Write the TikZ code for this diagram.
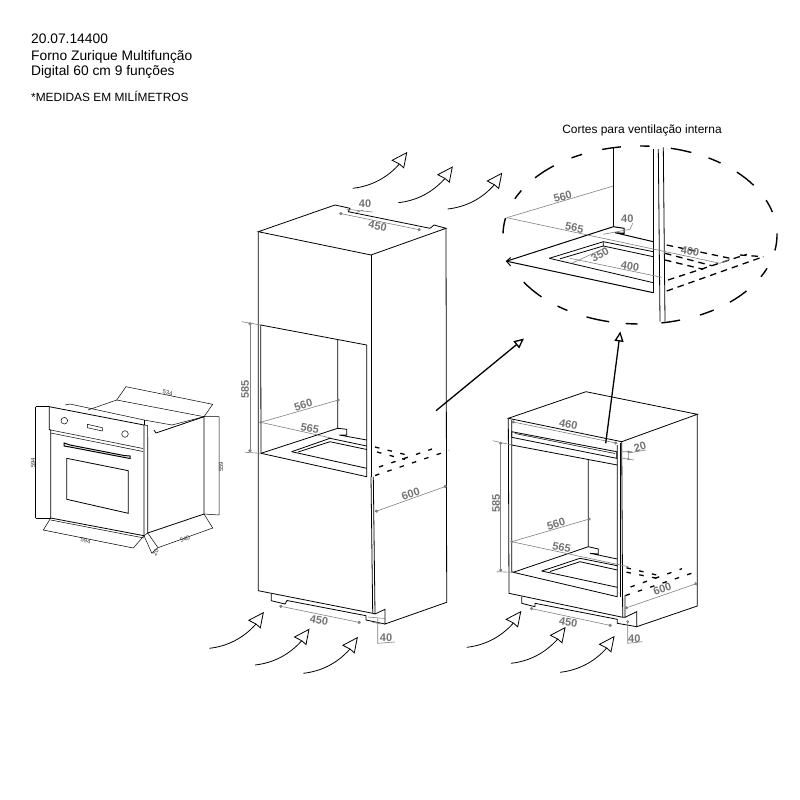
\documentclass[tikz,border=0pt]{standalone}
\usepackage{fontspec}
\setmainfont{Liberation Sans}
\usetikzlibrary{arrows.meta}
\tikzset{
    part/.style={line width=0.8pt,line join=miter},
    thin part/.style={line width=0.5pt},
    vent/.style={line width=1.3pt,dash pattern=on 4.5pt off 8.5pt},
    inset vent/.style={line width=1.3pt,dash pattern=on 6.5pt off 5pt},
    ring/.style={line width=1.4pt},
    dimline/.style={draw=black!50,line width=0.6pt},
    dimend/.style={dimline,{Circle[length=3.2pt]}-{Circle[length=3.2pt]}},
    dimtext/.style={text=black!55,font=\bfseries\fontsize{11}{11}\selectfont,inner sep=0pt},
    smalldim/.style={text=black!80,font=\fontsize{6}{6}\selectfont,inner sep=0pt},
    caption/.style={font=\fontsize{13.8}{14}\selectfont,inner sep=0pt,anchor=base west},
    bigarrow/.style={line width=1.3pt,-{Triangle[open,length=10pt,width=9pt,fill=white]}},
    pics/airflow/.style={code={
        \draw[line width=0.8pt] (0,0) .. controls (18,-2) and (34,-10) .. (46.7,-24.3);
        \draw[line width=0.8pt,fill=white] (46.7,-24.3) -- (39.5,-28) -- (54,-35.6) -- (51,-20.5) -- cycle;
    }}
}
\begin{document}
\begin{tikzpicture}[x=1pt,y=-1pt]
\useasboundingbox (0,0) rectangle (800,800);

\node[caption] (code) at (31,44) {20.07.14400};
\node[caption] (name) at (31,60) {Forno Zurique Multifunção};
\node[caption] (spec) at (31,75.5) {Digital 60 cm 9 funções};
\node[caption,font=\fontsize{11.9}{12}\selectfont] (note) at (31,101) {*MEDIDAS EM MILÍMETROS};
\node[font=\fontsize{11.95}{12}\selectfont,inner sep=0pt] (title) at (642,130) {Cortes para ventilação interna};

% small oven
\draw[part] (49.3,406.7) -- (144,425) -- (144,535.7) -- (50.7,518) -- (50.7,430) -- (49.3,429.5) -- cycle;
\draw[thin part] (50.7,430) -- (143,448.5) (50.7,433) -- (143,451.5) (50.7,520) -- (144,538);
\draw[part] (147.7,436.7) -- (147.7,533) -- (204,514) -- (204,416.7) -- (156,433) -- (154,430);
\draw[thin part] (144,425) -- (147.7,425.5) -- (147.7,436.7) (144,535.7) -- (147.7,533);
\draw[thin part] (65,405) -- (70,404) -- (144,420) -- (172,425) -- (204,416.7);
\draw[thin part] (88,410) -- (116.7,400) -- (204,416.7);
\draw[thin part] (144,420) -- (144,425);
\draw[part] (66.7,458.3) -- (128.3,470.7) -- (128.3,513.3) -- (66.7,499.3) -- cycle;
\draw[thin part] (87.3,424.3) -- (102.3,427.7) -- (102.3,431) -- (87.3,427.7) -- cycle;
\draw[thin part] (64.3,420.7) circle (3.3);
\draw[thin part] (125,434) circle (3.3);
\draw[line width=1pt] (64,446) -- (64,443) -- (70,445) -- (124,455.5) -- (130,456) -- (130,458.5) -- (70,447) -- cycle;
\draw[thin part] (35.7,406.7) -- (49,406.7) (35.7,518) -- (50.7,518);
\draw[thin part] (35.7,406.7) -- (35.7,518);
\draw[thin part] (219,416.7) -- (204,416.7) (219,515) -- (204,514) (219,416.7) -- (219,515);
\draw[thin part] (116.7,400) -- (126,386.7) -- (212.7,404.3) -- (204,416.7);
\draw[thin part] (50.7,518) -- (43.3,530) -- (133.3,548) -- (144,535.7);
\draw[thin part] (204,514) -- (212.7,528) -- (158,547.7) -- (147.7,533);
\draw[thin part] (144,535.7) -- (151.7,553) -- (158,547.7);
\node[smalldim,rotate=-10] (d534) at (167.7,392.7) {534};
\node[smalldim,rotate=90] (d594a) at (33,462.7) {594};
\node[smalldim,rotate=90] (d559) at (221,466.7) {559};
\node[smalldim,rotate=-10] (d594b) at (85.7,540.7) {594};
\node[smalldim,rotate=18] (d540) at (185,539) {540};
\node[smalldim,rotate=60] (d20) at (155.7,552.7) {20};

% tall cabinet
\draw[part] (258.3,231.7) -- (335,205) -- (350,208.3) -- (348.3,211.7) -- (430,228.3) -- (434,225) -- (446,228.3) -- (371,255) -- cycle;
\draw[part] (258.3,231.7) -- (258.3,590.7) -- (372.7,613.3);
\draw[part] (371,255) -- (371,476.5);
\draw[part] (373.3,476.5) -- (375,614) (371,476.5) -- (372.7,613.3) -- (375,614);
\draw[part] (446,228.3) -- (446.7,602.3) -- (385,624) -- (385,609.3) -- (375,614);
\draw[part] (271.3,594) -- (271.3,600.7) -- (285,604) -- (287,600.5) -- (366,615.7) -- (366,620) -- (385,624);
\draw[part] (260.7,325) -- (366.7,345) -- (366.7,476.7) -- (261,453.3) -- cycle;
\draw[part] (261,453.3) -- (337.7,428.3) -- (337.7,340);
\draw[part] (337.7,428.3) -- (346.7,429.3) -- (346.7,435) -- (339.3,435) -- (366.7,440);
\draw[part] (291.7,451.7) -- (330,438.3) -- (366.7,446);
\draw[part] (330,441.7) -- (366.7,449.5);
\draw[part] (291.7,451.7) -- (366.7,468.3);
\draw[part] (298,452) -- (330,441.7);
\draw[vent] (375,475.5) -- (449,450.5);
\draw[vent] (379,467) -- (432,449);
\draw[vent] (375,447) -- (405,454.5);
\draw[vent] (377,452) -- (405,459.5);
\draw[dimline] (241.7,321.7) -- (260.7,325) (245,452.3) -- (261,453.3);
\draw[dimend] (250,322.3) -- (250,452.3);
\draw[dimend] (339.3,213.3) -- (420.7,230);
\draw[dimline] (346.7,209.3) -- (372.7,212) (356,212.5) -- (363,210);
\draw[dimline] (260.7,422.3) -- (338.3,400);
\draw[dimline] (260.7,422.3) -- (331,438);
\fill[black!50] (260.7,422.3) circle (1.5) (338.3,400) circle (1.5);
\draw[dimend] (375,511.7) -- (446.7,486);
\draw[dimend] (279.3,606) -- (360.7,622.7);
\draw[dimline] (377.7,618.3) -- (377.7,643.3) -- (395,642);
\draw[dimline] (368,617) -- (385,618.5) (372,622) -- (381,624);
\node[dimtext] (h40) at (365,204) {40};
\node[dimtext,rotate=-12] (h450) at (377.7,226) {450};
\node[dimtext,rotate=90] (h585) at (245,389.3) {585};
\node[dimtext,rotate=17] (h560) at (303.3,405) {560};
\node[dimtext,rotate=-12] (h565) at (310,428.3) {565};
\node[dimtext,rotate=18] (h600) at (410.7,494) {600};
\node[dimtext,rotate=-10] (h450b) at (319,620) {450};
\node[dimtext] (h40b) at (386,637.7) {40};

% base cabinet
\draw[part] (508.3,418.3) -- (586,391.7) -- (697.3,414.3) -- (621.7,441.7) -- cycle;
\draw[part] (508.3,418.3) -- (509,593.3) -- (622.7,617.3);
\draw[part] (621.7,441.7) -- (622.7,617.3) -- (625,617.3) -- (625,595);
\draw[part] (697.3,414.3) -- (697.3,606) -- (636.7,626.7) -- (636.7,611.7) -- (625,617.3);
\draw[part] (521.7,596.7) -- (521.7,603.3) -- (535,606.7) -- (535,603.3) -- (617.3,619.3) -- (617.3,623.3) -- (636.7,626.7);
\draw[part] (511.7,420) -- (511.7,571.7) -- (513.3,572.3) -- (617.3,596.7) -- (617.3,445);
\draw[part] (620,443) -- (620,596.5);
\draw[part] (511.7,445) -- (617.3,465);
\draw[part] (511.7,431.7) -- (616.7,451.7) -- (616.7,458.3) -- (511.7,437.3) -- cycle;
\draw[thin part] (515,433.5) -- (615,453.5);
\draw[part] (513.3,572.3) -- (588.3,546.7) -- (588.3,459);
\draw[part] (588.3,546.7) -- (598.3,549) -- (598.3,554) -- (590,553.3) -- (617.3,559);
\draw[part] (541.7,571) -- (580,558.3) -- (617.3,565.7);
\draw[part] (580,561.7) -- (617.3,570);
\draw[part] (541.7,571) -- (617.3,587.3);
\draw[part] (550,571.5) -- (580,561.7);
\draw[vent] (625.5,595.5) -- (699,570.8);
\draw[vent] (630.5,587) -- (682,568.7);
\draw[vent] (626.5,567.8) -- (656.7,575);
\draw[vent] (626.5,572.2) -- (656.7,578.3);
\draw[dimend] (511.7,421.7) -- (617.3,443.3);
\draw[dimline] (492.7,440.7) -- (511.7,445) (496.7,571.7) -- (513.3,572.3);
\draw[dimend] (500.7,441.7) -- (500.7,571.7);
\draw[dimline] (511.7,541.7) -- (589.3,519);
\draw[dimline] (511.7,541.7) -- (628.3,566.7);
\fill[black!50] (511.7,541.7) circle (1.5) (589.3,519) circle (1.5);
\draw[dimend] (625,608.3) -- (697.3,583.3);
\draw[dimend] (530,608.3) -- (611.7,625.7);
\draw[dimline] (627.7,621.7) -- (627.7,643.3) -- (642.3,641.7);
\draw[dimline] (621,451.7) -- (632,451.7) (621,458) -- (634,460) (628.3,451.7) -- (628.3,459) (628.3,453) -- (646,450);
\fill[black!50] (628.3,451.7) circle (1.3) (628.3,459) circle (1.3) (627.7,621.7) circle (1.5);
\node[dimtext,rotate=-12] (b460) at (568.3,424.3) {460};
\node[dimtext,rotate=18] (b20) at (640,447.3) {20};
\node[dimtext,rotate=90] (b585) at (496,503.3) {585};
\node[dimtext,rotate=17] (b560) at (556,524) {560};
\node[dimtext,rotate=-12] (b565) at (561.7,547.3) {565};
\node[dimtext,rotate=18] (b600) at (662.3,589) {600};
\node[dimtext,rotate=-10] (b450) at (568.3,622.3) {450};
\node[dimtext] (b40) at (634.3,638.3) {40};

% air flow
\foreach \xs/\ys in {352.7/188.3,398.3/202.7,447.7/209,209.3/648.3,255/665,303.3/673.3,466.7/647.3,511/663.3,560/672.3}
    \pic at (\xs,\ys) {airflow};

% cut detail
\foreach \ta/\tb in {181/191,204/210,220/231,240/245,254/262,270/274,283/292,300/306,315/326,337/345,359/370,382/388,399/409,417.5/424,433/441,451/456,463/473,482/487,496/508}
    \draw[ring] ({640+137*cos(\ta)},{235+89*sin(\ta)}) arc[start angle=\ta,end angle=\tb,x radius=137,y radius=89];
\draw[part] (613.3,148.3) -- (613.3,226.7);
\draw[part] (653.3,149) -- (653.3,292.7);
\draw[part] (658.3,149) -- (660,321.7);
\draw[part] (663.3,147.3) -- (665,321.7);
\draw[line width=1pt] (506.5,261.2) -- (613.3,226.7) -- (624,228.3) -- (624,233.3) -- (615,232.7) -- (653.3,241.7);
\draw[line width=1pt] (506.5,261.2) -- (653.3,292.7);
\draw[line width=1pt] (510.7,257.5) -- (506.5,261.2) -- (510.7,266);
\draw[part] (549.3,258.3) -- (603.3,241.7) -- (653.3,251.7);
\draw[part] (603.3,241.7) -- (603.3,246) -- (653.3,256.7);
\draw[part] (549.3,258.3) -- (653.3,282.7);
\draw[part] (560,258.8) -- (603.3,246);
\draw[inset vent] (666.7,245) -- (730,258.3);
\draw[inset vent] (666.7,291) -- (763.3,256.7);
\draw[inset vent] (668,280) -- (746.7,254.3);
\draw[inset vent] (740,255) -- (763.3,256.7);
\draw[inset vent] (665,253.3) -- (711.7,265.7);
\draw[inset vent] (665,260) -- (703.3,269.3);
\draw[dimline] (506.7,217.7) -- (613.3,186);
\draw[dimline] (506.7,217.7) -- (720,263.3) -- (730,259.3);
\draw[dimline] (603.3,234.3) -- (630,229.3) -- (632.7,223.3);
\draw[dimline] (571.7,263.3) -- (605,248);
\draw[dimline] (570,258.3) -- (661.7,277.3);
\node[dimtext,rotate=16] (i560) at (562.7,196.7) {560};
\node[dimtext,rotate=-12] (i565) at (574.3,227.7) {565};
\node[dimtext] (i40) at (627.3,218.3) {40};
\node[dimtext,rotate=-10] (i400a) at (690,251) {400};
\node[dimtext,rotate=28] (i350) at (600,255) {350};
\node[dimtext,rotate=-10] (i400b) at (630,266.7) {400};

% pointers to the detail
\coordinate (tallside) at (436,410.7);
\coordinate (detailleft) at (524,338.5);
\coordinate (basefront) at (605.7,443.3);
\coordinate (detailbottom) at (620.3,331.5);
\draw[bigarrow] (tallside) -- (detailleft);
\draw[bigarrow] (basefront) -- (detailbottom);
\end{tikzpicture}
\end{document}
